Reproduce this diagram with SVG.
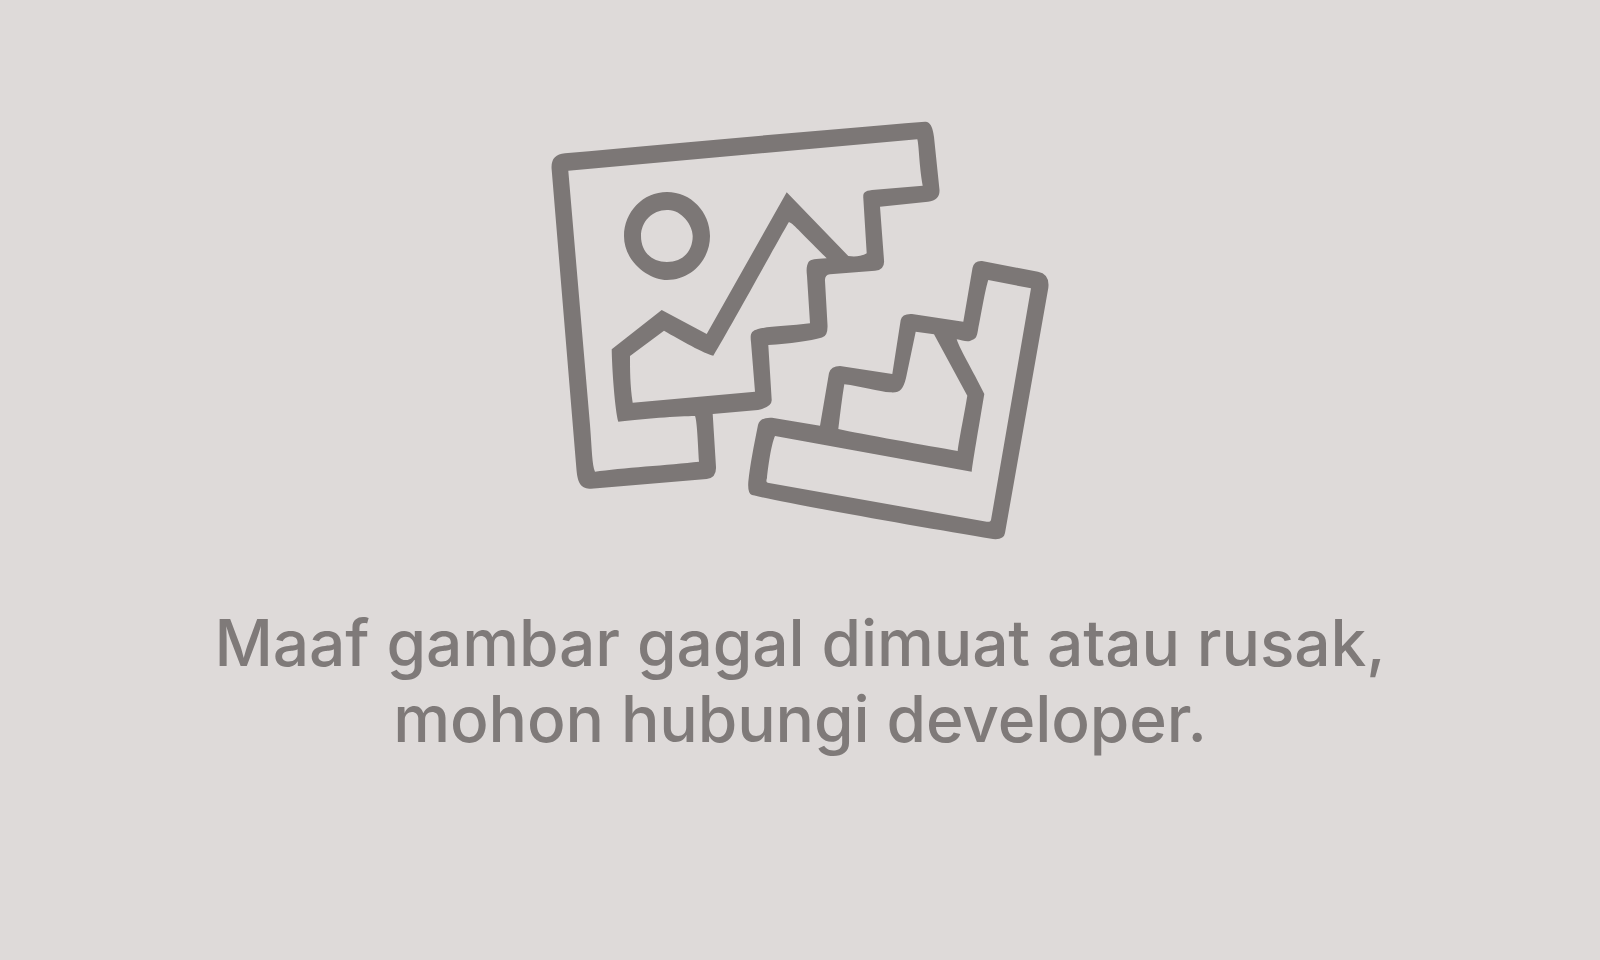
<svg xmlns="http://www.w3.org/2000/svg" width="1600" height="960" viewBox="0 0 1600 960">
<style>
.ic{fill:#7c7776;fill-rule:evenodd}
.t{font-family:Inter,"Noto Sans",sans-serif;font-size:64px;font-weight:500;letter-spacing:-0.1px;fill:#7f7a79;text-anchor:middle}
</style>
<rect width="1600" height="960" fill="#dedad9"/>
<g id="icon">
<path class="ic" d="M551.700 170Q550 154.500 565 153.300C680 143 810 131 925 121.700Q932 121 934 137L939.500 190Q940 200.500 928 201.700L880 206.700L884 260Q885 270 875 270.700L830 274.300Q824.500 275 825 281L827.500 325Q828 336 822 337.500C810 341 790 343.500 768.300 345L771.700 400Q772 407 758 410L712.700 414L716 467Q716.500 478 706.700 479L597 488.300C583 490 578 487 576.500 470Z
M568.300 170.700L917.300 139.300C919 145 919 165 922.700 185.700L872 190C864 191 863 193 863.300 198L866.700 253.300C862 256 856 257 848.300 256L786.700 192.300L706.700 334L661.700 310L611.700 349.300C612 370 615 410 618.300 421.700C640 419 680 416 695 416C697 420 698 445 699 461.700C670 465 620 468 595 471.700C592 465 592 450 590 425Z
M788.700 222.300C792 222 800 232 826.700 258.300C815 259 811 259 808.500 262C807 265 806 268 807 276L810 323.300C790 326 770 326 758 329C751 331 750 334 751 342L755 391.700L632.700 402.700C630 385 630 370 630 356L664 330.700C680 340 705 354 713.300 355.700C730 328 770 255 788.700 222.300Z"/>
<path class="ic" d="M667 192C691 192 710 212 710 236C710 260 691 280 667 280C649 280 624 262 624 236C624 212 643 192 667 192Z
M667 210C652 210 641 222 641 236C641 252 652 262 667 262C682 262 692.700 252 692.700 236C692.700 225 681 209 667 210Z"/>
<path class="ic" d="M972.500 268Q974 260.500 982 261L1038 271.700Q1050 274 1048.300 288L1005 533Q1004 540 993 539C920 527 790 504 752 495Q747.500 494 748.300 482C750 465 754 445 758 425Q760 417 772 417.700L820 425.700L829 373Q831 366 840 366L892.300 374L900.700 320Q902 313.500 912 314L963.300 321.700Z
M988.300 280L1031 288.300L991 520C990 522 989 522 986.700 521.700L769 483C766 483 766 481 767 478C768 468 771 445 775 436L971.700 471.700C973 460 980 420 984.300 394C977 378 960 350 956.700 339.300C962 340 968 343 972 340C976 339 977 336 978 330C981 315 985 290 988.300 280Z
M915.700 331.700L934 334.300L967.300 395.700C965 410 959 440 957.700 451C930 446 860 434 838.300 429C840 415 842 398 844.300 384.300C860 386 880 392 890 392.300C900 393 903 390 906 378Z"/>
</g>
<text class="t" x="800" y="665.500">Maaf gambar gagal dimuat atau rusak,</text>
<text class="t" x="800" y="742.300">mohon hubungi developer.</text>
</svg>
